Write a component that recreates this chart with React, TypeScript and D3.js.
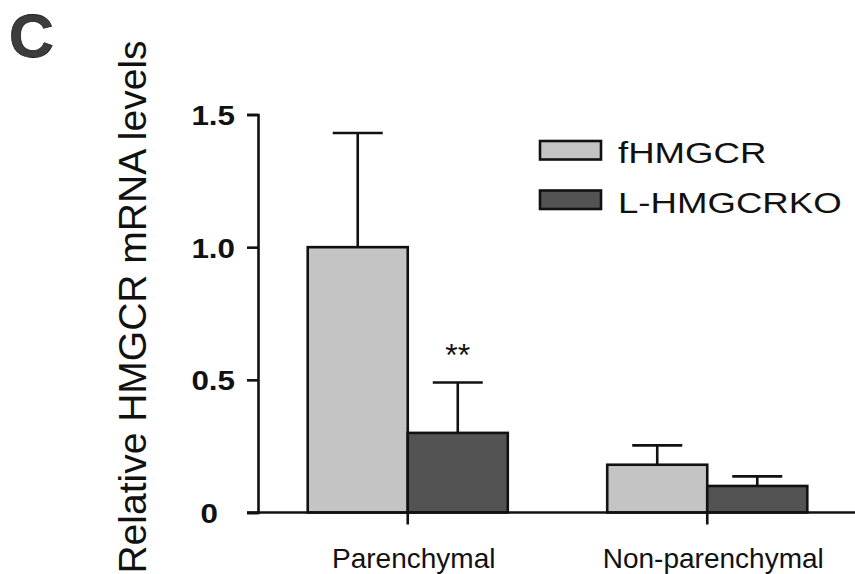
import React, { useEffect, useRef } from "react";
import * as d3 from "d3";

const categories = ["Parenchymal", "Non-parenchymal"];
const seriesNames = ["fHMGCR", "L-HMGCRKO"];
const fhmgcrMean = [1.0, 0.18];
const fhmgcrErr = [0.43, 0.073];
const koMean = [0.3, 0.1];
const koErr = [0.19, 0.036];
const yTicks = [0, 0.5, 1.0, 1.5];
const yTickLabels = ["0", "0.5", "1.0", "1.5"];
const significance = ["**", ""];

const App = () => {
  const svgRef = useRef<SVGSVGElement>(null);

  useEffect(() => {
    const W = 855;
    const H = 574;
    const svg = d3.select(svgRef.current).attr("width", W).attr("height", H);
    svg.selectAll("*").remove();

    const font = "Arial, 'Liberation Sans', Helvetica, sans-serif";
    const lightFill = "#c4c4c4";
    const darkFill = "#535353";
    const colors = [lightFill, darkFill];

    // stretch text horizontally, the scanned figure is a bit wide
    const stretch = (sel: any, k: number) => {
      sel.each(function (this: SVGTextElement) {
        const len = this.getComputedTextLength();
        d3.select(this).attr("textLength", len * k).attr("lengthAdjust", "spacingAndGlyphs");
      });
    };

    const y = d3.scaleLinear().domain([0, 1.5]).range([512.5, 114.5]);
    const x0 = d3.scaleBand().domain(categories).range([258, 857]).paddingInner(0.332).paddingOuter(0.166);
    const x1 = d3.scaleBand().domain(seriesNames).range([0, x0.bandwidth()]);

    const rows = categories.map((c, i) => ({
      cat: c,
      vals: [
        { s: seriesNames[0], v: fhmgcrMean[i], e: fhmgcrErr[i] },
        { s: seriesNames[1], v: koMean[i], e: koErr[i] },
      ],
    }));

    // panel letter
    svg.append("text")
      .attr("x", 9)
      .attr("y", 57)
      .attr("font-family", font)
      .attr("font-weight", "bold")
      .attr("font-size", 62)
      .attr("fill", "#3c3c3c")
      .attr("stroke", "#1e1e1e")
      .attr("stroke-width", 0.8)
      .text("C");

    // y axis title
    svg.append("text")
      .attr("transform", "translate(146,307) rotate(-90)")
      .attr("text-anchor", "middle")
      .attr("font-family", font)
      .attr("font-size", 39)
      .attr("fill", "#111")
      .text("Relative HMGCR mRNA levels");

    // bars
    const groups = svg.selectAll("g.grp")
      .data(rows)
      .join("g")
      .attr("class", "grp")
      .attr("transform", (d) => `translate(${x0(d.cat)},0)`);

    groups.selectAll("line.err")
      .data((d) => d.vals)
      .join("line")
      .attr("class", "err")
      .attr("x1", (d) => x1(d.s)! + x1.bandwidth() / 2)
      .attr("x2", (d) => x1(d.s)! + x1.bandwidth() / 2)
      .attr("y1", (d) => y(d.v))
      .attr("y2", (d) => y(d.v + d.e))
      .attr("stroke", "#111")
      .attr("stroke-width", 2.6);

    groups.selectAll("line.cap")
      .data((d) => d.vals)
      .join("line")
      .attr("class", "cap")
      .attr("x1", (d) => x1(d.s)! + x1.bandwidth() * 0.25)
      .attr("x2", (d) => x1(d.s)! + x1.bandwidth() * 0.75)
      .attr("y1", (d) => y(d.v + d.e))
      .attr("y2", (d) => y(d.v + d.e))
      .attr("stroke", "#111")
      .attr("stroke-width", 2.6);

    groups.selectAll("rect")
      .data((d) => d.vals)
      .join("rect")
      .attr("x", (d) => x1(d.s)!)
      .attr("y", (d) => y(d.v))
      .attr("width", x1.bandwidth())
      .attr("height", (d) => y(0) - y(d.v))
      .attr("fill", (d, i) => colors[i])
      .attr("stroke", "#111")
      .attr("stroke-width", 2.6);

    // significance stars
    groups.append("text")
      .attr("x", x1(seriesNames[1])! + x1.bandwidth() / 2)
      .attr("y", (d, i) => y(koMean[i] + koErr[i]) - 16)
      .attr("text-anchor", "middle")
      .attr("font-family", font)
      .attr("font-size", 32)
      .attr("fill", "#111")
      .text((d, i) => significance[i]);

    // y axis
    const yAxis = d3.axisLeft(y)
      .tickValues(yTicks)
      .tickFormat((d, i) => yTickLabels[i])
      .tickSize(11)
      .tickPadding(12);
    const gy = svg.append("g").attr("transform", "translate(258,0)").call(yAxis);
    gy.select(".domain").attr("stroke", "#111").attr("stroke-width", 2.6);
    gy.selectAll(".tick line").attr("stroke", "#111").attr("stroke-width", 2.6);
    const yLabels = gy.selectAll(".tick text")
      .attr("font-family", font)
      .attr("font-weight", "bold")
      .attr("font-size", 28)
      .attr("fill", "#111")
      .attr("dy", "0.36em");
    stretch(yLabels, 1.12);
    gy.selectAll(".tick")
      .filter((d: any) => d === 0)
      .select("text")
      .attr("x", -40);

    // x axis
    svg.append("line")
      .attr("x1", 247)
      .attr("x2", 855)
      .attr("y1", y(0))
      .attr("y2", y(0))
      .attr("stroke", "#111")
      .attr("stroke-width", 2.6);
    const xAxis = d3.axisBottom(x0).tickSize(12).tickPadding(24);
    const gx = svg.append("g").attr("transform", `translate(0,${y(0)})`).call(xAxis);
    gx.select(".domain").remove();
    gx.selectAll(".tick line").attr("stroke", "#111").attr("stroke-width", 2.6);
    gx.selectAll(".tick text")
      .attr("font-family", font)
      .attr("font-size", 28)
      .attr("fill", "#111")
      .attr("dy", "0.71em")
      .attr("dx", 6);

    // legend
    const legend = svg.append("g").attr("transform", "translate(540,141)");
    const items = legend.selectAll("g")
      .data(seriesNames)
      .join("g")
      .attr("transform", (d, i) => `translate(0,${i * 49.5})`);
    items.append("rect")
      .attr("width", 61)
      .attr("height", 18.5)
      .attr("fill", (d, i) => colors[i])
      .attr("stroke", "#111")
      .attr("stroke-width", 2.6);
    const legendText = items.append("text")
      .attr("x", 78)
      .attr("y", 22)
      .attr("font-family", font)
      .attr("font-size", 30)
      .attr("fill", "#111")
      .text((d) => d);
    stretch(legendText, 1.22);
  }, []);

  return (
    <svg
      ref={svgRef}
      style={{ position: "absolute", left: 0, top: 0, background: "#fff" }}
    ></svg>
  );
};

export default App;
